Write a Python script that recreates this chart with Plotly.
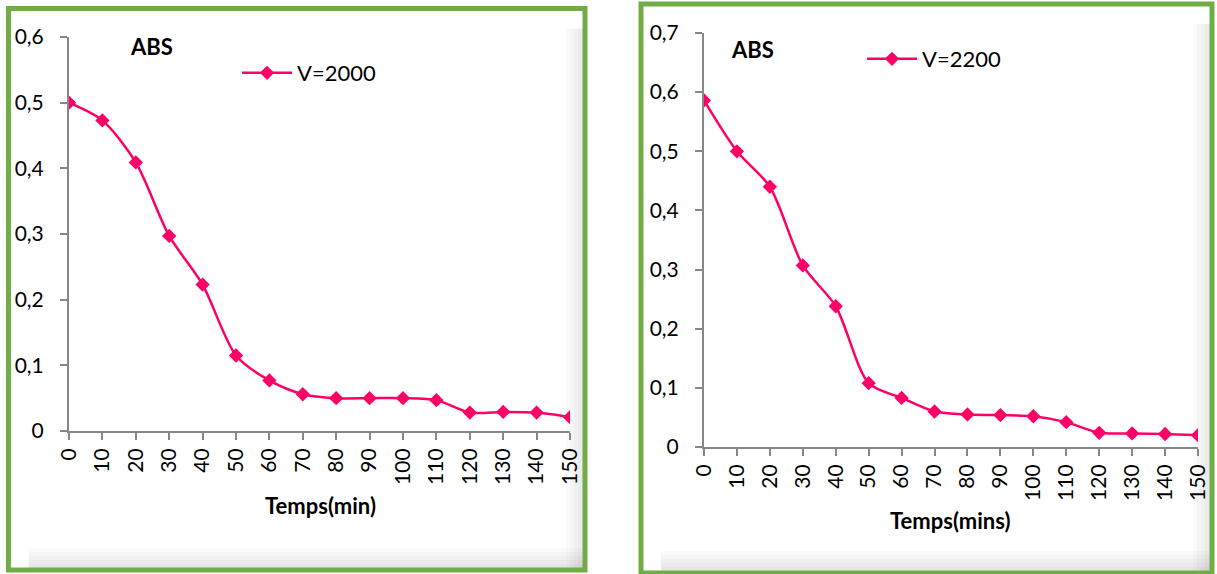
import plotly.graph_objects as go

W, H = 1217, 574

temps = [0, 10, 20, 30, 40, 50, 60, 70, 80, 90, 100, 110, 120, 130, 140, 150]
abs_2000 = [0.500, 0.473, 0.409, 0.297, 0.223, 0.115, 0.077, 0.056, 0.050, 0.050,
            0.050, 0.047, 0.028, 0.029, 0.028, 0.021]
abs_2200 = [0.586, 0.500, 0.440, 0.307, 0.238, 0.108, 0.083, 0.060, 0.055, 0.054,
            0.052, 0.042, 0.024, 0.023, 0.022, 0.020]
x_ticks = temps
y_ticks_left = [0, 0.1, 0.2, 0.3, 0.4, 0.5, 0.6]
y_ticks_right = [0, 0.1, 0.2, 0.3, 0.4, 0.5, 0.6, 0.7]

LINE = "#FF0066"
GREEN = "#70AD47"
AX = "#878787"
FONT = "Lato"


def px(x):
    return x / W


def py(y):
    return 1 - y / H


fig = go.Figure()
fig.add_trace(go.Scatter(
    x=temps, y=abs_2000, name="V=2000", mode="lines+markers", showlegend=True,
    line=dict(color=LINE, width=2.5, shape="spline", smoothing=0.8),
    marker=dict(symbol="diamond", size=11, color=LINE),
    xaxis="x", yaxis="y", legend="legend"))
fig.add_trace(go.Scatter(
    x=temps, y=abs_2200, name="V=2200", mode="lines+markers", showlegend=True,
    line=dict(color=LINE, width=2.5, shape="spline", smoothing=0.8),
    marker=dict(symbol="diamond", size=11, color=LINE),
    xaxis="x2", yaxis="y2", legend="legend2"))

axis_common = dict(
    showgrid=False, zeroline=False, showline=True, linecolor=AX, linewidth=2,
    ticks="outside", ticklen=7, tickwidth=2, tickcolor=AX, automargin=False,
    tickfont=dict(family=FONT, size=21, color="#000000"))

fig.update_layout(
    width=W, height=H, margin=dict(l=0, r=0, t=0, b=0, autoexpand=False),
    paper_bgcolor="white", plot_bgcolor="white",
    separators=", ", showlegend=True,
    font=dict(family=FONT, color="#000000"),
    xaxis=dict(domain=[px(69), px(570)], range=[0, 150], tickvals=x_ticks,
               tickangle=-90, anchor="y", **axis_common),
    yaxis=dict(domain=[py(431), py(37)], range=[0, 0.6], tickvals=y_ticks_left,
               anchor="x", ticklabelstandoff=12, **axis_common),
    xaxis2=dict(domain=[px(704), px(1198)], range=[0, 150], tickvals=x_ticks,
                tickangle=-90, anchor="y2", **axis_common),
    yaxis2=dict(domain=[py(447), py(33)], range=[0, 0.7], tickvals=y_ticks_right,
                anchor="x2", ticklabelstandoff=12, **axis_common),
    legend=dict(x=px(237), y=py(73), xanchor="left", yanchor="middle",
                font=dict(family=FONT, size=22), bgcolor="rgba(0,0,0,0)",
                itemwidth=50),
    legend2=dict(x=px(862), y=py(59), xanchor="left", yanchor="middle",
                 font=dict(family=FONT, size=22), bgcolor="rgba(0,0,0,0)",
                 itemwidth=50),
)

# ABS and axis titles
annos = [
    dict(text="<b>ABS</b>", x=px(151), y=py(46)),
    dict(text="<b>Temps(min)</b>", x=px(320), y=py(505)),
    dict(text="<b>ABS</b>", x=px(752), y=py(50)),
    dict(text="<b>Temps(mins)</b>", x=px(950), y=py(520)),
]
for a in annos:
    fig.add_annotation(xref="paper", yref="paper", xanchor="center", yanchor="middle",
                       showarrow=False, font=dict(family=FONT, size=22, color="#000000"),
                       **a)

# soft inner shadow near right/bottom edges, then green frames
panels = [(8.5, 8.5, 585, 570), (641, 4, 1212, 573)]
for (x0, y0, x1, y1) in panels:
    for i in range(5):
        d = 3 + i * 4
        fig.add_shape(type="rect", xref="paper", yref="paper",
                      x0=px(x1 - d), x1=px(x1 - 2), y0=py(y1 - 2), y1=py(y0 + 20),
                      line=dict(width=0), fillcolor="rgba(0,0,0,0.02)", layer="below")
        fig.add_shape(type="rect", xref="paper", yref="paper",
                      x0=px(x0 + 20), x1=px(x1 - 2), y0=py(y1 - 2), y1=py(y1 - d - 3),
                      line=dict(width=0), fillcolor="rgba(0,0,0,0.02)", layer="below")
    fig.add_shape(type="rect", xref="paper", yref="paper",
                  x0=px(x0), x1=px(x1), y0=py(y1), y1=py(y0),
                  line=dict(color=GREEN, width=5), fillcolor="rgba(0,0,0,0)")

fig.write_html("out.html")
